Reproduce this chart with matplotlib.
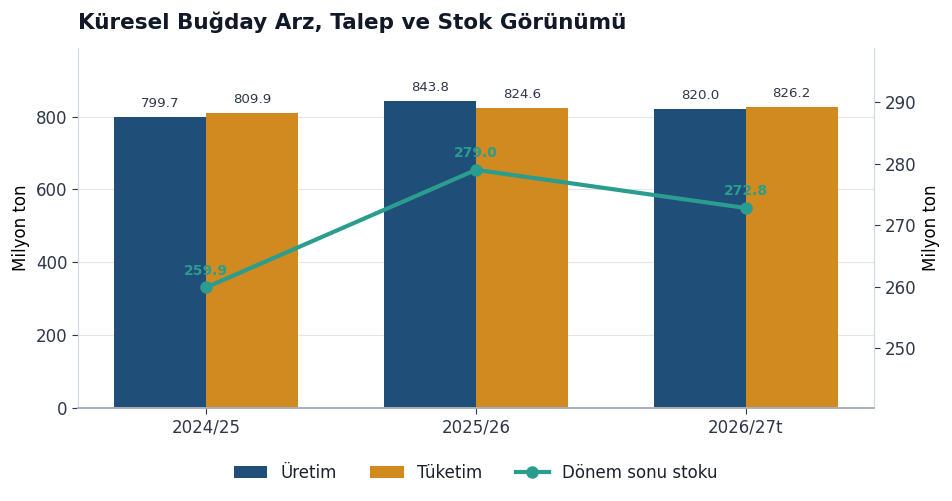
import matplotlib
matplotlib.use("Agg")
import matplotlib.pyplot as plt
import numpy as np

categories = ["2024/25", "2025/26", "2026/27t"]
uretim = [799.7, 843.8, 820.0]
tuketim = [809.9, 824.6, 826.2]
stok = [259.9, 279.0, 272.8]

c_blue = "#1f4e79"
c_orange = "#d08a1f"
c_teal = "#2a9d8f"
c_text = "#2d3748"

plt.rcParams["font.family"] = ["DejaVu Sans"]

fig = plt.figure(figsize=(9.53, 5.01), dpi=100)
ax = fig.add_axes([78/953, 1-408/501, (874-78)/953, (408-48)/501])
x = np.arange(len(categories))
w = 0.34
b1 = ax.bar(x - w/2, uretim, w, color=c_blue, label="Üretim", zorder=2)
b2 = ax.bar(x + w/2, tuketim, w, color=c_orange, label="Tüketim", zorder=2)
for rect, v in zip(list(b1) + list(b2), uretim + tuketim):
    ax.annotate(f"{v:.1f}", (rect.get_x() + rect.get_width()/2, v),
                xytext=(0, 5), textcoords="offset points", ha="center", va="bottom",
                fontsize=9.6, color=c_text)
ax.set_xlim(-0.475, 2.475)
ax.set_ylim(0, 988)
ax.set_xticks(x)
ax.set_xticklabels(categories)
ax.set_yticks([0, 200, 400, 600, 800])
ax.set_ylabel("Milyon ton", fontsize=12, color="black")
ax.grid(axis="y", color="#e2e6ea", linewidth=0.8, zorder=0)
ax.set_axisbelow(True)
ax.tick_params(axis="both", labelsize=12, colors=c_text, length=4)
ax.spines["top"].set_visible(False)
ax.spines["left"].set_color("#d5d9e0")
ax.spines["right"].set_color("#d5d9e0")
ax.spines["bottom"].set_color("#aab0bb")
ax.spines["bottom"].set_linewidth(1.2)

ax2 = ax.twinx()
ln, = ax2.plot(x, stok, color=c_teal, linewidth=3, marker="o", markersize=8,
               label="Dönem sonu stoku", zorder=3)
for xi, v in zip(x, stok):
    ax2.annotate(f"{v:.1f}", (xi, v), xytext=(0, 7), textcoords="offset points",
                 ha="center", va="bottom", fontsize=10, fontweight="bold", color=c_teal)
ax2.set_ylim(240.3, 298.8)
ax2.set_yticks([250, 260, 270, 280, 290])
ax2.set_ylabel("Milyon ton", fontsize=12, color="black")
ax2.tick_params(axis="y", labelsize=12, colors=c_text, length=4)
ax2.spines["top"].set_visible(False)
ax2.spines["right"].set_color("#d5d9e0")
ax2.spines["left"].set_color("#d5d9e0")
ax2.spines["bottom"].set_color("#aab0bb")
ax2.spines["bottom"].set_linewidth(1.2)

fig.text(78/953, 1-22/501, "Küresel Buğday Arz, Talep ve Stok Görünümü",
         fontsize=15.5, fontweight="bold", color="#111827", ha="left", va="center")

handles = [b1, b2, ln]
fig.legend(handles, [h.get_label() for h in handles], loc="center",
           bbox_to_anchor=(476/953, 1-473/501), ncol=3, frameon=False,
           fontsize=12, handlelength=2.0, columnspacing=2.0, labelcolor="#1a202c")

fig.savefig("out.png", dpi=100)
